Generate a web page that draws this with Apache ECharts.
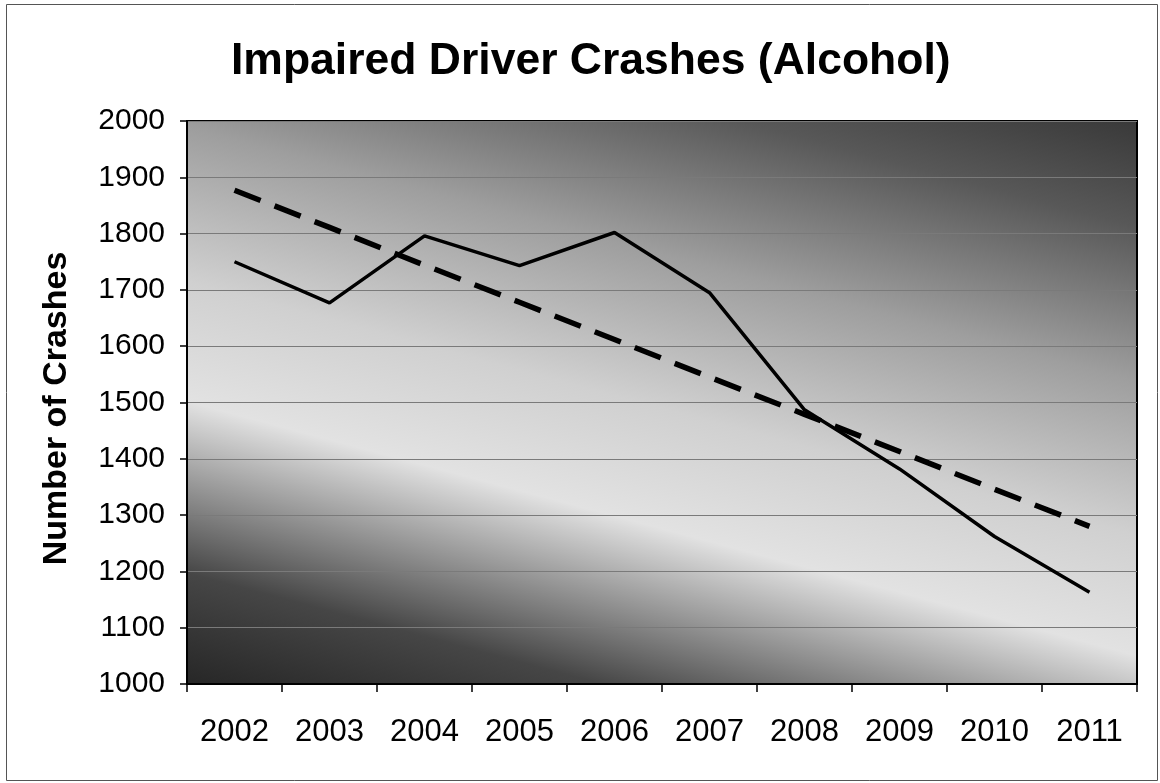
<!DOCTYPE html>
<html>
<head>
<meta charset="utf-8">
<script src="https://cdn.jsdelivr.net/npm/echarts@6/dist/echarts.min.js"></script>
<style>
html,body{margin:0;padding:0;background:#fff;}
#chart{width:1160px;height:783px;}
</style>
</head>
<body>
<div id="chart"></div>
<script>
var years = ['2002','2003','2004','2005','2006','2007','2008','2009','2010','2011'];
var crashes = [1750, 1677, 1796, 1743, 1802, 1695, 1487, 1382, 1262, 1163];
var trend = [1877, 1811, 1744, 1678, 1612, 1545, 1479, 1413, 1346, 1280];
var yMin = 1000, yMax = 2000, yStep = 100;

var chart = echarts.init(document.getElementById('chart'));
var font = '"Liberation Sans", Arial, sans-serif';
chart.setOption({
  animation: false,
  backgroundColor: '#fff',
  title: {
    text: 'Impaired Driver Crashes (Alcohol)',
    left: 226,
    top: 34,
    textStyle: {fontFamily: font, fontSize: 44.5, fontWeight: 'bold', color: '#000'}
  },
  graphic: [{
    type: 'rect', shape: {x: 6.5, y: 4.5, width: 1151, height: 776},
    style: {fill: 'none', stroke: '#555', lineWidth: 1}, silent: true
  }],
  grid: {
    left: 187, right: 23, top: 121, bottom: 99,
    show: true, borderColor: '#000', borderWidth: 2,
    backgroundColor: {
      type: 'linear', global: true, x: 587, y: 800, x2: 801, y2: 0,
      colorStops: [
        {offset: 0, color: '#242424'},
        {offset: 0.14, color: '#464646'},
        {offset: 0.34, color: '#e2e2e2'},
        {offset: 0.48, color: '#d0d0d0'},
        {offset: 0.66, color: '#9e9e9e'},
        {offset: 0.84, color: '#585858'},
        {offset: 1, color: '#303030'}
      ]
    }
  },
  xAxis: {
    type: 'category', data: years, boundaryGap: true,
    axisLine: {lineStyle: {color: '#000', width: 2}},
    axisTick: {show: true, length: 8, lineStyle: {color: '#000', width: 1.5}},
    axisLabel: {fontFamily: font, fontSize: 31, color: '#000', margin: 33}
  },
  yAxis: {
    type: 'value', min: yMin, max: yMax, interval: yStep,
    name: 'Number of Crashes', nameLocation: 'middle', nameGap: 113,
    nameTextStyle: {fontFamily: font, fontSize: 34, fontWeight: 'bold', color: '#000',
      padding: [0, 12, 0, 0]},
    axisLine: {show: true, lineStyle: {color: '#000', width: 2}},
    axisTick: {show: true, length: 7, lineStyle: {color: '#000', width: 1.5}},
    axisLabel: {fontFamily: font, fontSize: 30, color: '#000', margin: 22,
      formatter: function (v) { return String(v); }},
    splitLine: {show: true, lineStyle: {color: '#7a7a7a', width: 1}}
  },
  series: [
    {
      type: 'line', data: crashes, symbol: 'none',
      lineStyle: {color: '#000', width: 3.5}, z: 3
    },
    {
      type: 'line', data: trend, symbol: 'none',
      lineStyle: {color: '#000', width: 5.5, type: [28, 15], cap: 'butt'}, z: 3
    }
  ]
});
</script>
</body>
</html>
